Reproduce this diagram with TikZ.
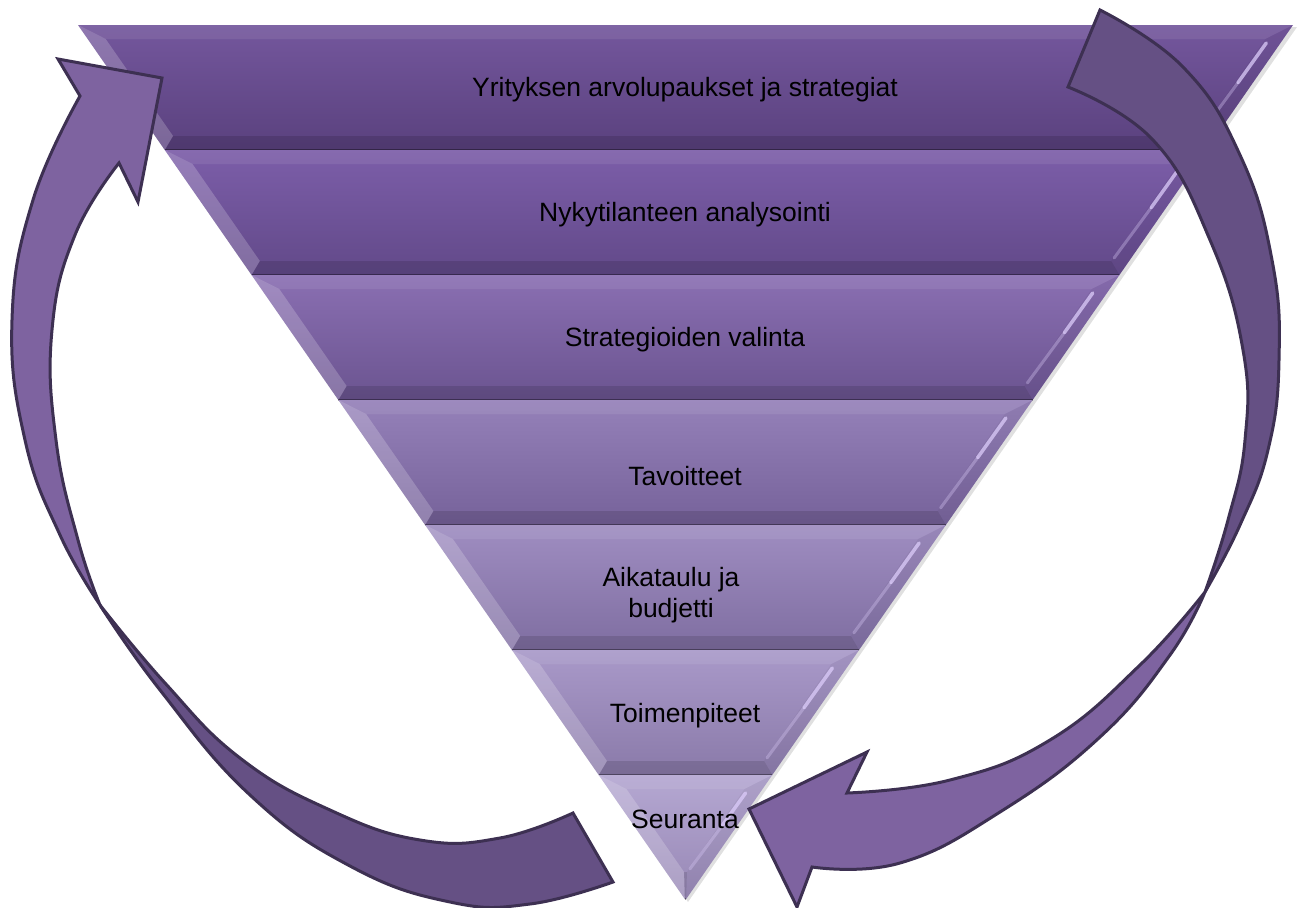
\documentclass[tikz,border=0pt]{standalone}
\usepackage{fontspec}
\setmainfont{Liberation Sans}
\usetikzlibrary{calc}
\definecolor{b1t}{HTML}{74579D}\definecolor{b1b}{HTML}{5A417E}
\definecolor{b2t}{HTML}{7C5EA9}\definecolor{b2b}{HTML}{624989}
\definecolor{b3t}{HTML}{8A6FB2}\definecolor{b3b}{HTML}{6B5490}
\definecolor{b4t}{HTML}{9581B9}\definecolor{b4b}{HTML}{76629A}
\definecolor{b5t}{HTML}{9F8DC1}\definecolor{b5b}{HTML}{7F6EA1}
\definecolor{b6t}{HTML}{A999C9}\definecolor{b6b}{HTML}{8A7AA9}
\definecolor{b7t}{HTML}{B5A8D2}\definecolor{b7b}{HTML}{9787B5}
\definecolor{arrL}{HTML}{7E63A0}
\definecolor{arrD}{HTML}{655084}
\definecolor{arrO}{HTML}{3D3052}
\definecolor{hilite}{HTML}{DCCCFA}
\tikzset{
  lbl/.style={font=\fontsize{26.5}{30.5}\selectfont, text=black, align=center, inner sep=0pt},
  arrowlight/.style={fill=arrL, draw=arrO, line width=3pt, line join=miter},
  arrowdark/.style={fill=arrD, draw=arrO, line width=3pt, line join=miter},
  edge/.style={smooth, tension=0.75},
}
\newcommand\pband[4]{%
  \pgfmathsetmacro\xa{78+0.6943*(#1-25)}%
  \pgfmathsetmacro\xb{1293-0.6943*(#1-25)}%
  \pgfmathsetmacro\xc{1293-0.6943*(#2-25)}%
  \pgfmathsetmacro\xd{78+0.6943*(#2-25)}%
  \pgfmathsetmacro\yi{#1+14}%
  \pgfmathsetmacro\yj{min(#2-14,872)}%
  \pgfmathsetmacro\xai{78+0.6943*(\yi-25)+18}%
  \pgfmathsetmacro\xbi{1293-0.6943*(\yi-25)-18}%
  \pgfmathsetmacro\xci{max(1293-0.6943*(\yj-25)-18,685.5)}%
  \pgfmathsetmacro\xdi{min(78+0.6943*(\yj-25)+18,685.5)}%
  \shade[top color=#3, bottom color=#4] (\xa,#1) -- (\xb,#1) -- (\xc,#2) -- (\xd,#2) -- cycle;
  \fill[white, opacity=0.08] (\xa,#1) -- (\xb,#1) -- (\xbi,\yi) -- (\xai,\yi) -- cycle;
  \fill[white, opacity=0.20] (\xa,#1) -- (\xai,\yi) -- (\xdi,\yj) -- (\xd,#2) -- cycle;
  \fill[black, opacity=0.12] (\xd,#2) -- (\xdi,\yj) -- (\xci,\yj) -- (\xc,#2) -- cycle;
  \fill[black, opacity=0.04] (\xb,#1) -- (\xbi,\yi) -- (\xci,\yj) -- (\xc,#2) -- cycle;
  \draw[hilite, opacity=0.75, line width=3.5pt, line cap=round] ($(\xbi,\yi)+(1,4)$) -- ($(\xbi,\yi)!0.45!(\xci,\yj)+(3,0)$);
  \draw[hilite, opacity=0.35, line width=3pt, line cap=round] ($(\xbi,\yi)!0.45!(\xci,\yj)+(3,0)$) -- ($(\xci,\yj)+(3,-3)$);
  \draw[black, opacity=0.35, line width=1.2pt] (\xd,#2) -- (\xc,#2);
}
\begin{document}
\begin{tikzpicture}[x=1pt,y=-1pt]
\useasboundingbox (0,0) rectangle (1302,908);
\fill[white] (0,0) rectangle (1302,908);
% shadow
\fill[black, opacity=0.12] (81,27) -- (1297,27) -- (688,902) -- cycle;
% pyramid bands
\pband{25}{150}{b1t}{b1b}
\pband{150}{275}{b2t}{b2b}
\pband{275}{400}{b3t}{b3b}
\pband{400}{525}{b4t}{b4b}
\pband{525}{650}{b5t}{b5b}
\pband{650}{775}{b6t}{b6b}
\pband{775}{899}{b7t}{b7b}
% labels
\node[lbl, anchor=base] (l1) at (685,96) {Yrityksen arvolupaukset ja strategiat};
\node[lbl, anchor=base] (l2) at (685,221.5) {Nykytilanteen analysointi};
\node[lbl, anchor=base] (l3) at (685,346.5) {Strategioiden valinta};
\node[lbl, anchor=base] (l4) at (685,485.5) {Tavoitteet};
\node[lbl] (l5) at (671,595) {Aikataulu ja\\budjetti};
\node[lbl, anchor=base] (l6) at (685,722) {Toimenpiteet};
\node[lbl, anchor=base] (l7) at (685,828) {Seuranta};
% left arrow: dark (back) part
\filldraw[arrowdark] plot[edge] coordinates {(100,605) (160,690) (250,795) (350,866) (450,902) (530,904) (613,882)} -- (573,813) -- plot[edge] coordinates {(573,813) (500,838) (420,840) (330,810) (240,758) (165,683) (100,605)} -- cycle;
% left arrow: light (front) part
\filldraw[arrowlight] plot[edge] coordinates {(100,605) (60,535) (25,440) (12,320) (33,200) (80,96)} -- (58,59) -- (162,78) -- (138,202) -- (119,163) -- plot[edge] coordinates {(119,163) (75,235) (52,330) (56,440) (78,540) (100,605)} -- cycle;
% right arrow: dark (back) part
\filldraw[arrowdark] (1068,87) -- (1100,10) -- plot[edge] coordinates {(1100,10) (1183,67) (1240,155) (1272,260) (1279,360) (1268,450) (1240,525) (1205,592)} -- plot[edge] coordinates {(1205,592) (1228,520) (1245,440) (1243,350) (1210,240) (1153,140) (1068,87)} -- cycle;
% right arrow: light (front) part
\filldraw[arrowlight] plot[edge] coordinates {(1205,592) (1140,665) (1050,740) (950,780) (847,793)} -- (867,752) -- (749,809) -- (797,907) -- (812,867) -- plot[edge] coordinates {(812,867) (900,863) (1000,812) (1100,737) (1170,655) (1205,592)} -- cycle;
\end{tikzpicture}
\end{document}
